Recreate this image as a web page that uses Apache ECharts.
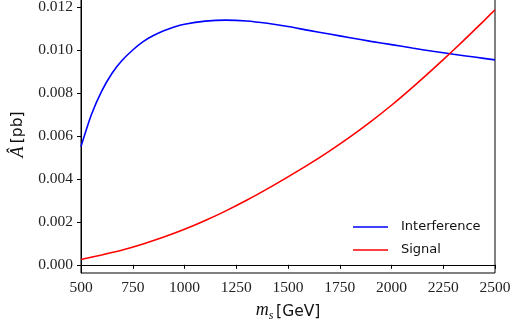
<!DOCTYPE html>
<html>
<head>
<meta charset="utf-8">
<script src="https://cdn.jsdelivr.net/npm/echarts@6/dist/echarts.min.js"></script>
<style>
  html, body { margin: 0; padding: 0; background: #fff; }
  #chart { width: 512px; height: 326px; }
</style>
</head>
<body>
<div id="chart"></div>
<script>
// m_s in GeV, A-hat in pb
const interferenceMass = [500, 550, 600, 650, 700, 750, 800, 850, 900, 950, 1000, 1100, 1200, 1300, 1400, 1500,
  1600, 1700, 1800, 1900, 2000, 2100, 2200, 2300, 2400, 2500]
const interference = [0.00550, 0.00698, 0.00808, 0.00891, 0.00952, 0.00999, 0.01038, 0.01066, 0.01088, 0.01106,
  0.01119, 0.01133, 0.01138, 0.01134, 0.01123, 0.01108, 0.01090, 0.01073, 0.01056, 0.01039,
  0.01024, 0.01008, 0.00993, 0.00979, 0.00966, 0.00953]
const signalMass = [500, 600, 700, 800, 900, 1000, 1100, 1200, 1300, 1400, 1500,
  1600, 1700, 1800, 1900, 2000, 2100, 2200, 2300, 2400, 2500]
const signal = [0.00025, 0.00046, 0.00069, 0.00097, 0.00129, 0.00165, 0.00206, 0.00251, 0.00300, 0.00353, 0.00409,
  0.00467, 0.00529, 0.00595, 0.00666, 0.00742, 0.00824, 0.00910, 0.00999, 0.01091, 0.01186]
const yTicks = [0, 0.002, 0.004, 0.006, 0.008, 0.010, 0.012]
const seriesNames = ['Interference', 'Signal']

const pairs = (xs, ys) => xs.map((m, i) => [m, ys[i]])

const serif = 'Liberation Serif'
const sans = 'DejaVu Sans'

const chart = echarts.init(document.getElementById('chart'))
chart.setOption({
  animation: false,
  grid: {
    left: 81, right: 17, top: -4, bottom: 53,
    outerBoundsMode: 'none',
    show: true, borderColor: '#000', borderWidth: 1,
  },
  legend: {
    data: seriesNames,
    orient: 'vertical',
    left: 348,
    top: 214,
    icon: 'rect',
    itemWidth: 35,
    itemHeight: 1.6,
    itemGap: 7,
    textStyle: { fontFamily: sans, fontSize: 13, color: '#111', lineHeight: 16, padding: [0, 0, 0, 8] },
  },
  xAxis: {
    type: 'value',
    min: 500,
    max: 2500,
    interval: 250,
    splitLine: { show: false },
    axisLine: { lineStyle: { color: '#000', width: 1 } },
    axisTick: { length: 4, lineStyle: { color: '#000' } },
    axisLabel: { fontFamily: serif, fontSize: 15.5, color: '#222', margin: 7, formatter: v => String(v) },
    name: '{it|m}{sub|s}{sp| }{sa|[GeV]}',
    nameLocation: 'middle',
    nameGap: 25,
    nameTextStyle: {
      rich: {
        it: { fontFamily: serif, fontStyle: 'italic', fontSize: 18, color: '#111', verticalAlign: 'bottom', padding: [0, 0, 3, 0] },
        sub: { fontFamily: serif, fontStyle: 'italic', fontSize: 12, color: '#111', verticalAlign: 'bottom' },
        sp: { fontSize: 10, verticalAlign: 'bottom' },
        sa: { fontFamily: sans, fontSize: 15.5, color: '#111', verticalAlign: 'bottom', padding: [0, 0, 2, 0] },
      },
    },
  },
  yAxis: {
    type: 'value',
    min: -0.00038,
    max: 0.0125,
    splitLine: { show: false },
    axisLine: { show: true, lineStyle: { color: '#000', width: 1 } },
    axisTick: { show: true, length: 4, customValues: yTicks, lineStyle: { color: '#000' } },
    axisLabel: {
      fontFamily: serif, fontSize: 15.5, color: '#222', margin: 8,
      customValues: yTicks,
      formatter: v => v.toFixed(3),
    },
    name: '{it|Â} {sa|[pb]}',
    nameLocation: 'middle',
    nameGap: 52,
    nameTextStyle: {
      rich: {
        it: { fontFamily: serif, fontStyle: 'italic', fontSize: 18, color: '#111' },
        sa: { fontFamily: sans, fontSize: 15.5, color: '#111' },
      },
    },
  },
  series: [{
    name: seriesNames[0],
    type: 'line',
    data: pairs(interferenceMass, interference),
    smooth: 0.25,
    showSymbol: false,
    color: '#0000ff',
    lineStyle: { width: 1.6 },
  }, {
    name: seriesNames[1],
    type: 'line',
    data: pairs(signalMass, signal),
    smooth: 0.25,
    showSymbol: false,
    color: '#ff0000',
    lineStyle: { width: 1.6 },
  }],
})
</script>
</body>
</html>
